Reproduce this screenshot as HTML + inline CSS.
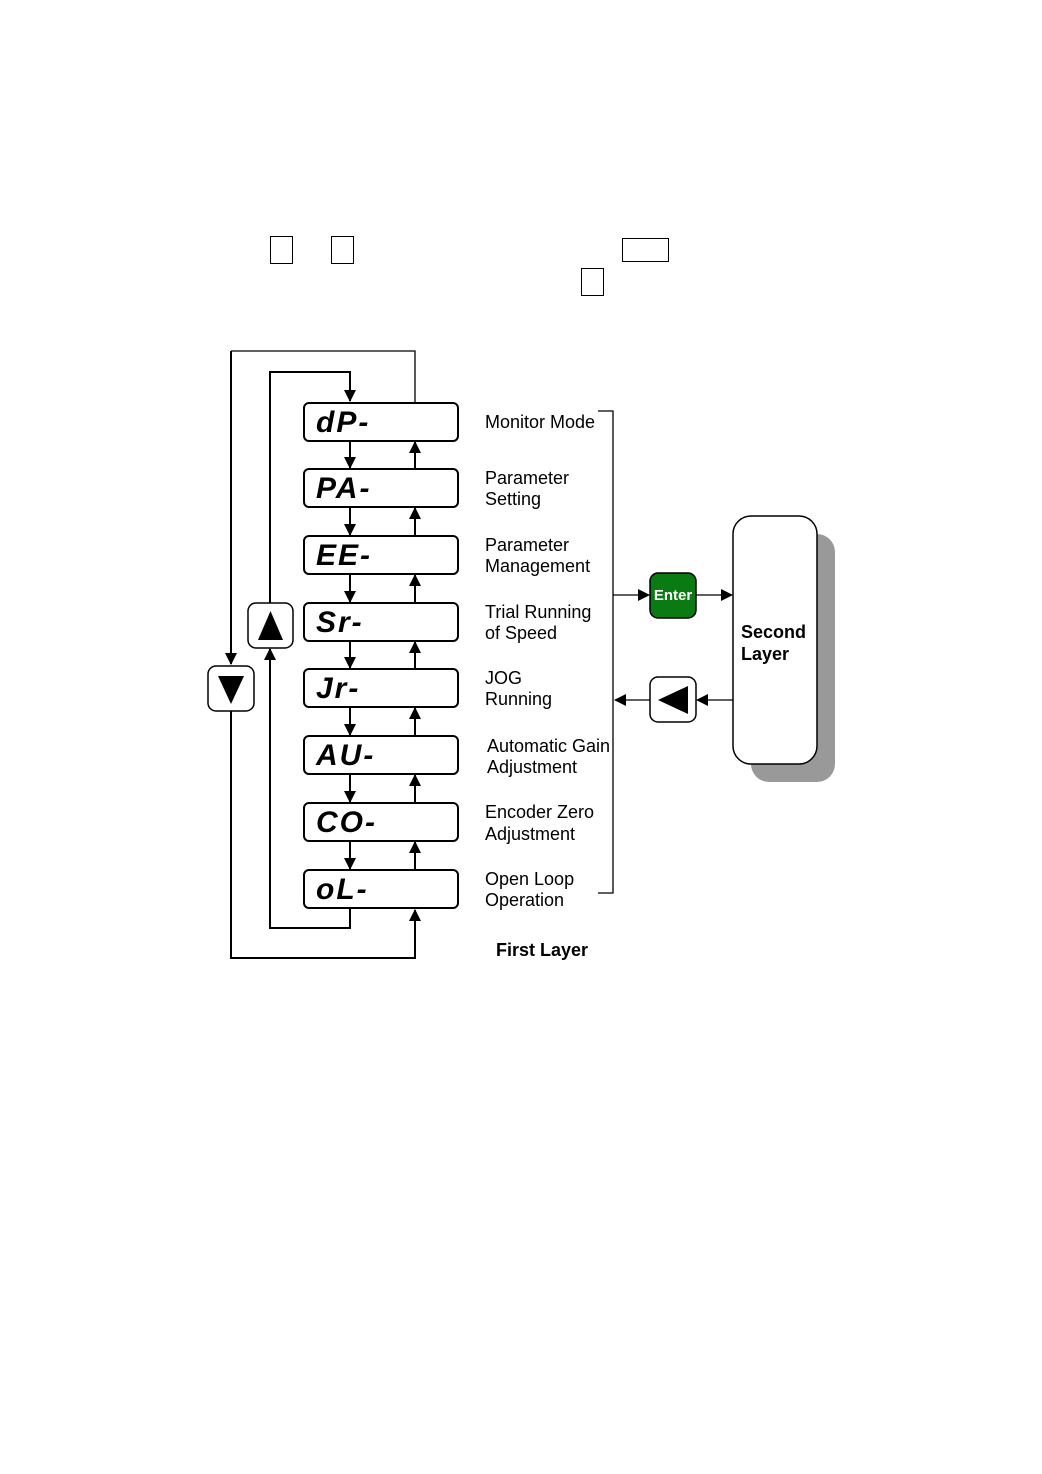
<!DOCTYPE html>
<html><head><style>
html,body{margin:0;padding:0;background:#fff}
svg{display:block}
text{font-family:"Liberation Sans",sans-serif}
.l{font-size:18px;fill:#000}
.s{font-family:"Liberation Sans",sans-serif;font-size:30px;font-style:italic;font-weight:bold;fill:#000;letter-spacing:2px}
</style></head><body>
<svg width="1042" height="1474" viewBox="0 0 1042 1474">
<defs>
<marker id="a" markerWidth="12" markerHeight="12" refX="11" refY="6" orient="auto" markerUnits="userSpaceOnUse">
<path d="M0,0 L12,6 L0,12 Z" fill="#000"/></marker>
</defs>
<g fill="none" stroke="#000" stroke-width="1">
<rect x="270.5" y="236.5" width="22" height="27"/>
<rect x="331.5" y="236.5" width="22" height="27"/>
<rect x="622.5" y="238.5" width="46" height="23"/>
<rect x="581.5" y="268.5" width="22" height="27"/>
</g>
<g fill="#fff" stroke="#000" stroke-width="2">
<rect x="304" y="403" width="154" height="38" rx="5"/>
<rect x="304" y="469" width="154" height="38" rx="5"/>
<rect x="304" y="536" width="154" height="38" rx="5"/>
<rect x="304" y="603" width="154" height="38" rx="5"/>
<rect x="304" y="669" width="154" height="38" rx="5"/>
<rect x="304" y="736" width="154" height="38" rx="5"/>
<rect x="304" y="803" width="154" height="38" rx="5"/>
<rect x="304" y="870" width="154" height="38" rx="5"/>
</g>
<g class="s">
<text x="316" y="432">dP-</text>
<text x="316" y="498">PA-</text>
<text x="316" y="565">EE-</text>
<text x="316" y="632">Sr-</text>
<text x="316" y="698">Jr-</text>
<text x="316" y="765">AU-</text>
<text x="316" y="832">CO-</text>
<text x="316" y="899">oL-</text>
</g>
<g stroke="#000" stroke-width="2" fill="none" marker-end="url(#a)">
<line x1="350" y1="441" x2="350" y2="468"/>
<line x1="350" y1="507" x2="350" y2="535"/>
<line x1="350" y1="574" x2="350" y2="602"/>
<line x1="350" y1="641" x2="350" y2="668"/>
<line x1="350" y1="707" x2="350" y2="735"/>
<line x1="350" y1="774" x2="350" y2="802"/>
<line x1="350" y1="841" x2="350" y2="869"/>
<line x1="415" y1="469" x2="415" y2="442"/>
<line x1="415" y1="536" x2="415" y2="508"/>
<line x1="415" y1="603" x2="415" y2="575"/>
<line x1="415" y1="669" x2="415" y2="642"/>
<line x1="415" y1="736" x2="415" y2="708"/>
<line x1="415" y1="803" x2="415" y2="775"/>
<line x1="415" y1="870" x2="415" y2="842"/>
<polyline points="270,603 270,372 350,372 350,401"/>
<polyline points="350,908 350,928 270,928 270,649"/>
<polyline points="231,711 231,958 415,958 415,910"/>
<polyline points="231,351 231,664"/>
</g>
<g stroke="#000" stroke-width="1.3" fill="none">
<polyline points="415,403 415,351 231,351"/>
<polyline points="598,411 613,411 613,893 598,893"/>
<line x1="613" y1="595" x2="649" y2="595" marker-end="url(#a)"/>
<line x1="696" y1="595" x2="732" y2="595" marker-end="url(#a)"/>
<line x1="733" y1="700" x2="697" y2="700" marker-end="url(#a)"/>
<line x1="650" y1="700" x2="615" y2="700" marker-end="url(#a)"/>
</g>
<rect x="248" y="603" width="45" height="45" rx="8" fill="#fff" stroke="#000" stroke-width="1.5"/>
<path d="M258,640 L283,640 L270.5,611 Z" fill="#000"/>
<rect x="208" y="666" width="46" height="45" rx="8" fill="#fff" stroke="#000" stroke-width="1.5"/>
<path d="M218,676 L244,676 L231,704 Z" fill="#000"/>
<rect x="751" y="534" width="84" height="248" rx="18" fill="#999"/>
<rect x="733" y="516" width="84" height="248" rx="18" fill="#fff" stroke="#000" stroke-width="1.5"/>
<text x="741" y="638" style="font-size:18px;font-weight:bold">Second</text>
<text x="741" y="660" style="font-size:18px;font-weight:bold">Layer</text>
<rect x="650" y="573" width="46" height="45" rx="8" fill="#0a7a12" stroke="#000" stroke-width="1.5"/>
<text x="673" y="600" text-anchor="middle" style="font-size:15px;font-weight:bold;fill:#fff">Enter</text>
<rect x="650" y="677" width="46" height="45" rx="8" fill="#fff" stroke="#000" stroke-width="1.5"/>
<path d="M688,686 L688,714 L658,700 Z" fill="#000"/>
<g class="l">
<text x="485" y="428">Monitor Mode</text>
<text x="485" y="484">Parameter</text><text x="485" y="505">Setting</text>
<text x="485" y="551">Parameter</text><text x="485" y="572">Management</text>
<text x="485" y="618">Trial Running</text><text x="485" y="639">of Speed</text>
<text x="485" y="684">JOG</text><text x="485" y="705">Running</text>
<text x="487" y="752">Automatic Gain</text><text x="487" y="773">Adjustment</text>
<text x="485" y="818">Encoder Zero</text><text x="485" y="840">Adjustment</text>
<text x="485" y="885">Open Loop</text><text x="485" y="906">Operation</text>
</g>
<text x="496" y="956" style="font-size:18px;font-weight:bold">First Layer</text>
</svg>
</body></html>
